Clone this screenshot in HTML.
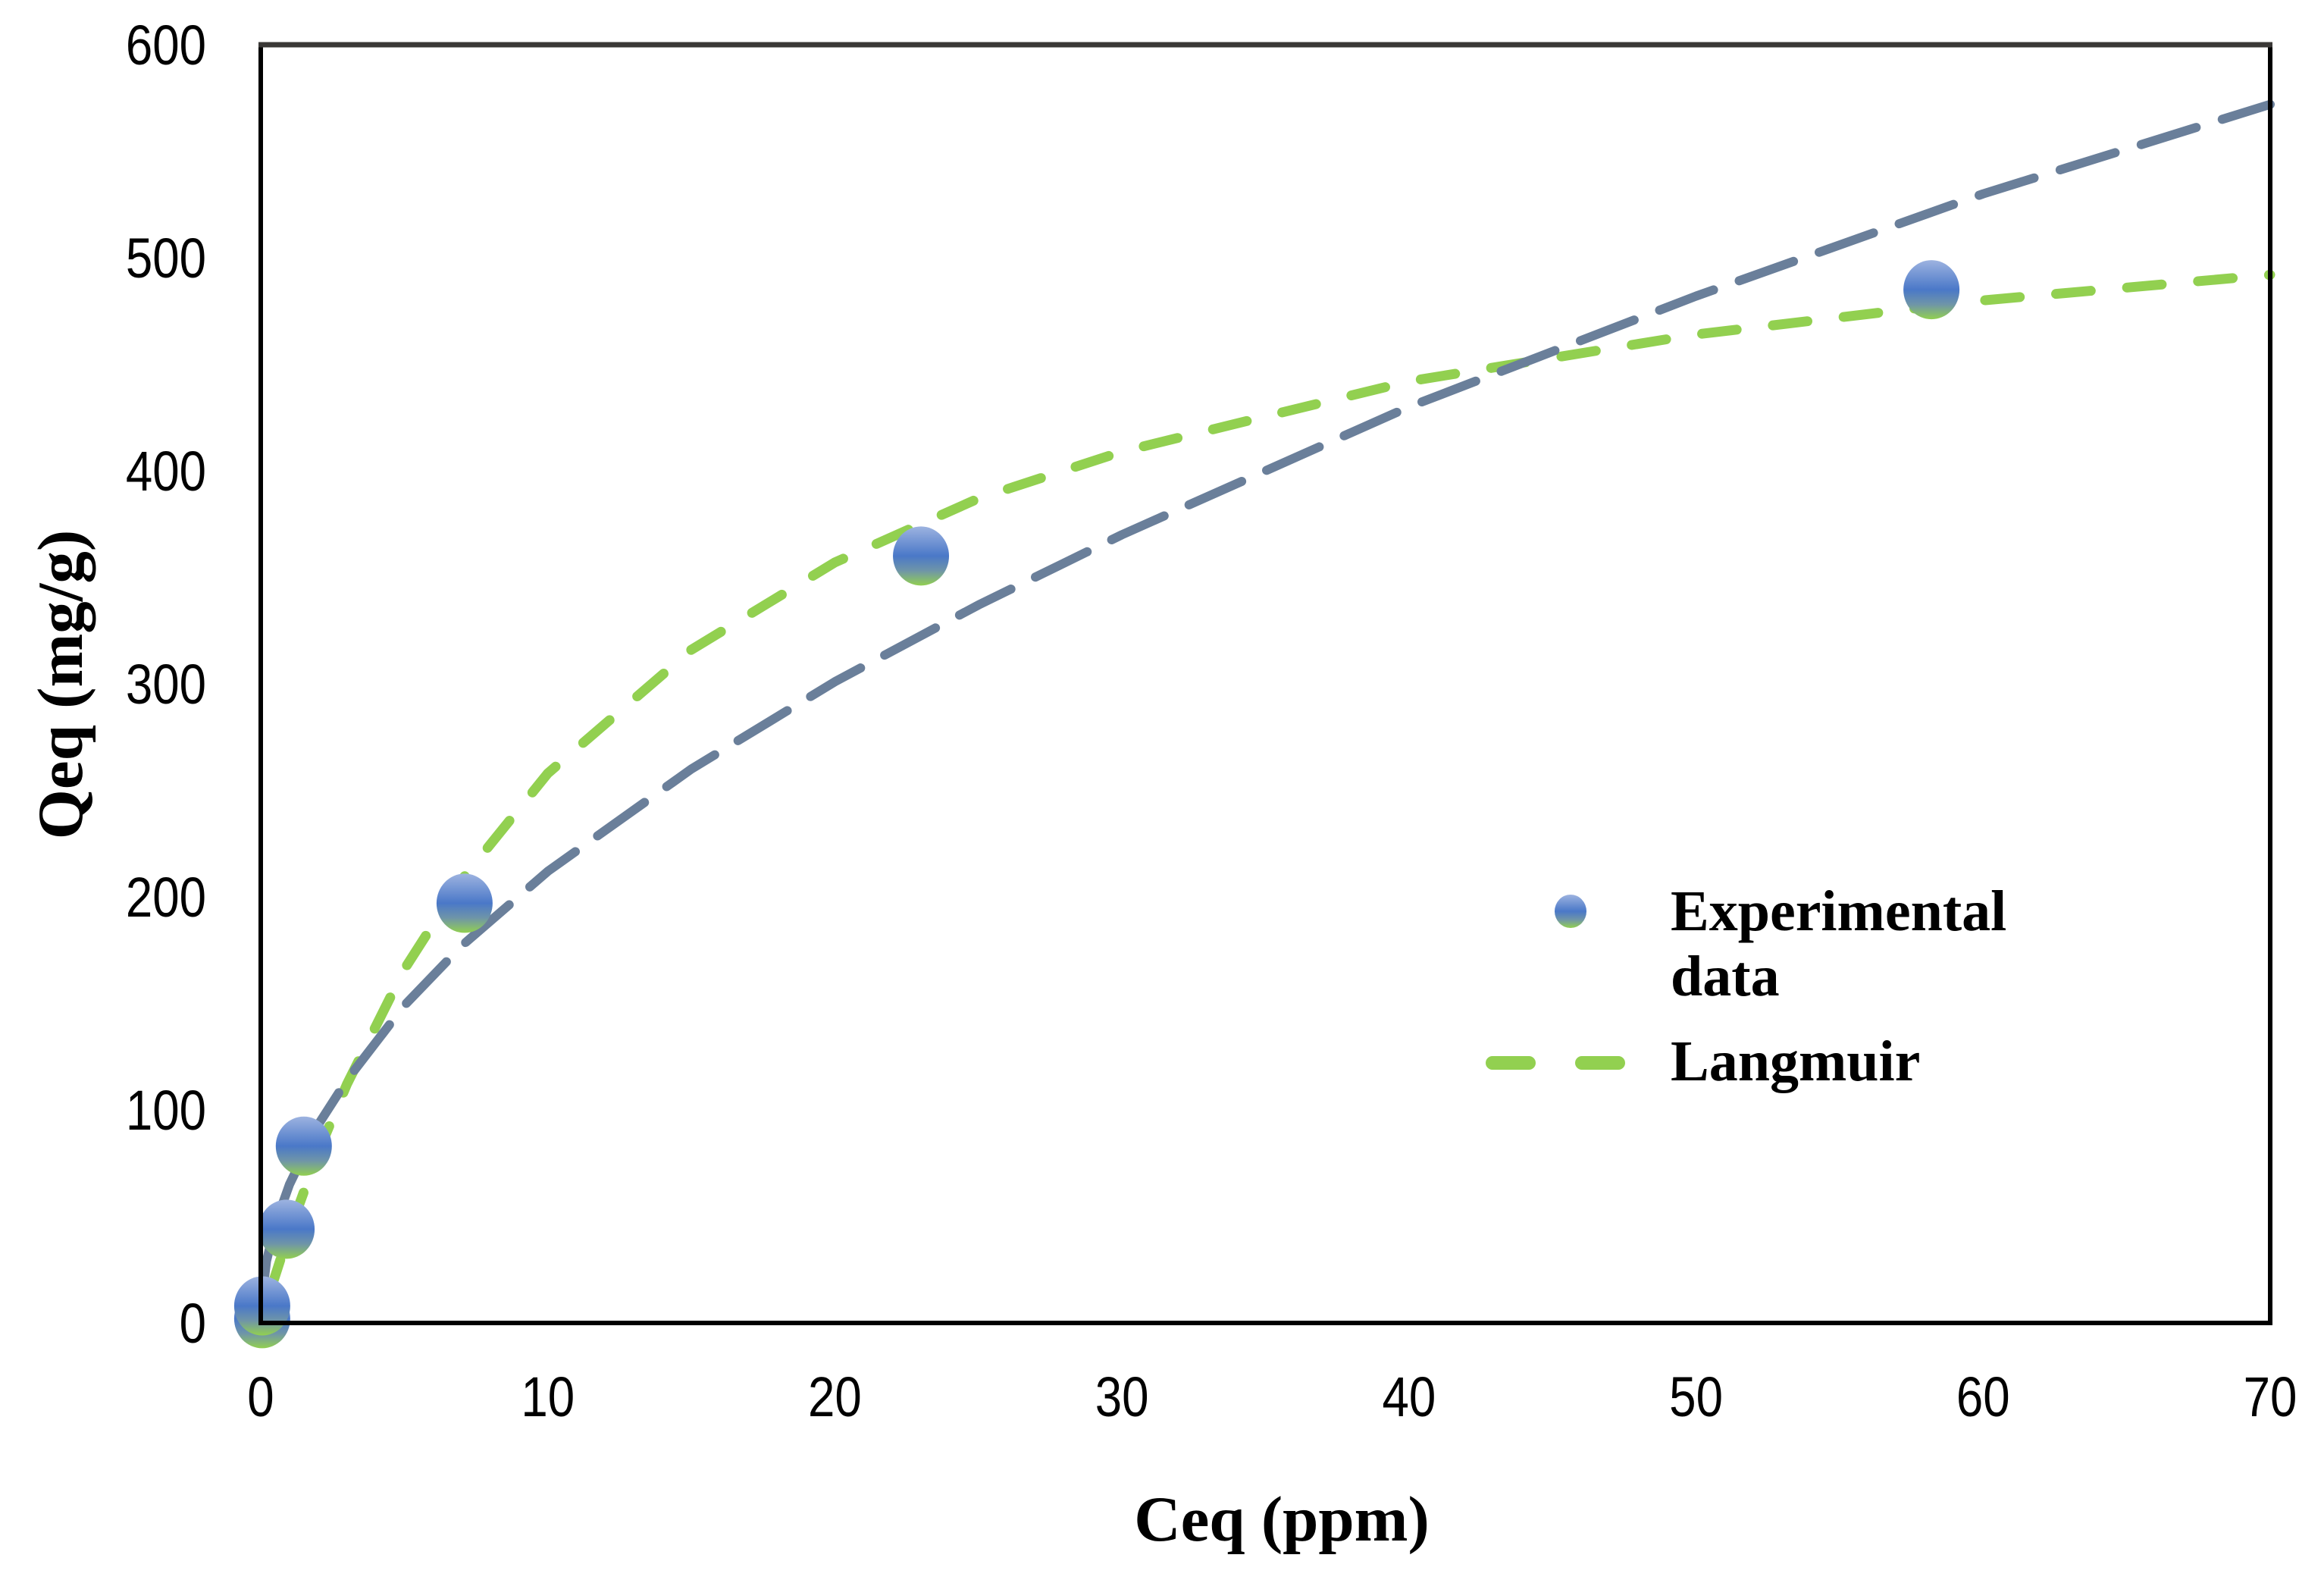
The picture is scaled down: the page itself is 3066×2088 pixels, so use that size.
<!DOCTYPE html>
<html><head><meta charset="utf-8"><style>
html,body{margin:0;padding:0;background:#fff;}
svg{display:block;}
.tick{font-family:"Liberation Sans",sans-serif;font-size:74px;fill:#000;}
.title{font-family:"Liberation Serif",serif;font-weight:bold;font-size:76px;fill:#000;}
.atitle{font-family:"Liberation Serif",serif;font-weight:bold;font-size:85px;fill:#000;}
</style></head><body>
<svg id="chart" width="3066" height="2088" viewBox="0 0 3066 2088" xmlns="http://www.w3.org/2000/svg">
<defs>
<linearGradient id="mg" x1="0" y1="0" x2="0" y2="1">
<stop offset="0" stop-color="#9db3e0"/><stop offset="0.5" stop-color="#4a78c8"/><stop offset="0.75" stop-color="#6f95a8"/><stop offset="1" stop-color="#92d050"/>
</linearGradient>
</defs>
<g id="series"></g>
<rect x="344" y="59" width="2651" height="1686" fill="none" stroke="#000" stroke-width="6"/>
<line x1="341" y1="59" x2="2998" y2="59" stroke="#3a3836" stroke-width="7"/>
<g id="ticks"></g>
<text class="atitle" x="1691" y="2032" text-anchor="middle">Ceq (ppm)</text>
<text class="atitle" transform="translate(108,903) rotate(-90)" text-anchor="middle">Qeq (mg/g)</text>
<g>
<ellipse cx="2072" cy="1202" rx="21" ry="22" fill="url(#mg)"/>
<text class="title" x="2204" y="1227">Experimental</text>
<text class="title" x="2204" y="1313">data</text>
<line x1="1969" y1="1402" x2="2135" y2="1402" stroke="#92d050" stroke-width="18" stroke-linecap="round" stroke-dasharray="48 70"/>
<text class="title" x="2204" y="1425">Langmuir</text>
</g>
</svg>
<script>
const xTicks=[0,10,20,30,40,50,60,70];
const yTicks=[0,100,200,300,400,500,600];
const expX=[0.05,0.05,0.9,1.5,7.1,23,58.2];
const expY=[2,8,44,83,197,360,485];
const freX=[0.02,0.2,0.5,1,2,3,5,7,10,15,20,25,30,40,50,60,70];
const freY=[9,29,46,65,93,114,149,177,212,260,301,337,370,430,482,530,572];
const lanX=[0.3,0.5,1,2,3,5,7,10,15,20,25,30,40,50,60,70];
const lanY=[14,22,43,80,112,166,208,258,316,357,387,409,442,464,480,492];
const NS='http://www.w3.org/2000/svg';
const X=v=>344+v/70*2651;
const Y=v=>1745-v/600*1686;
const ser=document.getElementById('series');
const tk=document.getElementById('ticks');
xTicks.forEach(t=>{const e=document.createElementNS(NS,'text');


e.setAttribute('class','tick');e.setAttribute('transform','translate('+X(t)+',1868) scale(0.86,1)');e.setAttribute('text-anchor','middle');e.textContent=t;tk.appendChild(e);});
yTicks.forEach(t=>{const e=document.createElementNS(NS,'text');


e.setAttribute('class','tick');e.setAttribute('transform','translate(272,'+(Y(t)+26)+') scale(0.86,1)');e.setAttribute('text-anchor','end');e.textContent=t;tk.appendChild(e);});
function curve(xs,ys,color,dash,name){
 let d='M'+X(xs[0])+','+Y(ys[0]);
 for(let i=1;i<xs.length;i++)d+=' L'+X(xs[i])+','+Y(ys[i]);
 const p=document.createElementNS(NS,'path');
 
 
 p.setAttribute('d',d);p.setAttribute('fill','none');p.setAttribute('stroke',color);p.setAttribute('stroke-width',dash[2]);
 p.setAttribute('stroke-dasharray',dash[0]+' '+dash[1]);p.setAttribute('stroke-linecap','round');p.setAttribute('stroke-linejoin','round');
 ser.appendChild(p);
}
curve(lanX,lanY,'#92d050',[46,48,13],'langmuir-curve');
curve(freX,freY,'#6a7f9a',[76,36,12],'freundlich-curve');
expX.forEach((v,i)=>{const e=document.createElementNS(NS,'ellipse');


e.setAttribute('cx',X(v));e.setAttribute('cy',Y(expY[i]));e.setAttribute('rx',37);e.setAttribute('ry',39);e.setAttribute('fill','url(#mg)');ser.appendChild(e);});
</script>
</body></html>
